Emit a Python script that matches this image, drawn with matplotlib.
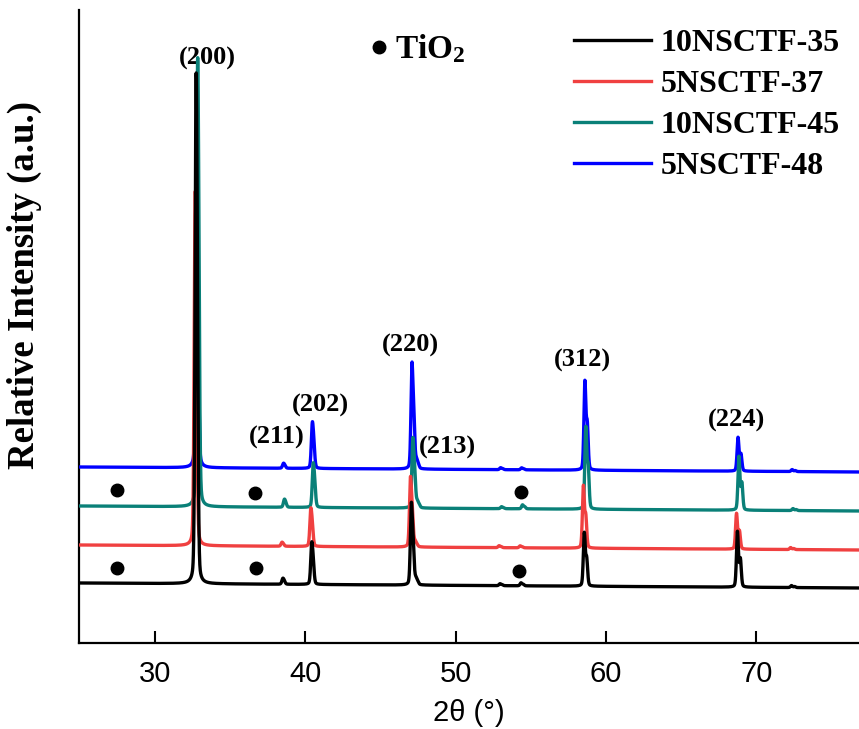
import numpy as np
import matplotlib
matplotlib.use('Agg')
import matplotlib.pyplot as plt
from matplotlib import font_manager

# ---------------- data ----------------
samples = ['10NSCTF-35', '5NSCTF-37', '10NSCTF-45', '5NSCTF-48']
colors = ['#000000', '#F04040', '#0A8078', '#0000FF']

# baseline level of each pattern at 2theta=25 and at the right end (a.u.)
base_left = [60, 98, 137, 176]
base_right = [55, 93, 132, 171]
# small position shift of each pattern (deg)
pos_shift = [0.00, -0.06, 0.10, 0.04]

peak_pos = [32.72, 38.50, 40.42, 47.05, 47.35, 52.95, 54.35, 58.56, 68.75, 72.35]
h_10NSCTF_35 = [497, 6, 42, 82, 6, 2, 3, 54, 56, 2]
h_5NSCTF_37 = [345, 4, 38, 70, 5, 2, 2, 63, 36, 2]
h_10NSCTF_45 = [437, 8, 44, 70, 6, 2, 4, 83, 54, 2]
h_5NSCTF_48 = [326, 5, 46, 106, 8, 2, 2, 90, 34, 2]
heights = [h_10NSCTF_35, h_5NSCTF_37, h_10NSCTF_45, h_5NSCTF_48]

hkl_labels = ['(200)', '(211)', '(202)', '(220)', '(213)', '(312)', '(224)']
hkl_x = [33.46, 38.12, 40.98, 46.97, 49.43, 58.41, 68.71]
hkl_y = [585, 206, 238, 298, 196, 283, 223]

tio2_x = [27.47, 36.65, 54.35, 27.47, 36.72, 54.22]
tio2_y = [153, 150, 151, 75, 75, 72]

# ---------------- profile helpers ----------------
FWHM = 0.15
ETA = 0.25
KA2_RATIO = 0.5


def pv(d):
    g = np.exp(-4 * np.log(2) * d ** 2 / FWHM ** 2)
    l = 1.0 / (1.0 + 4 * d ** 2 / FWHM ** 2)
    return ETA * l + (1 - ETA) * g


def ka2_delta(tt):
    th = np.radians(tt / 2)
    return np.degrees(2 * np.tan(th) * 0.00248)


x = np.arange(25.0, 77.0, 0.01)


def pattern(i):
    y = base_left[i] + (base_right[i] - base_left[i]) * (x - x[0]) / (x[-1] - x[0])
    for p, h in zip(peak_pos, heights[i]):
        p0 = p + pos_shift[i]
        dl = ka2_delta(p0)
        norm = 1 + KA2_RATIO * pv(dl)
        y = y + h / norm * (pv(x - p0) + KA2_RATIO * pv(x - p0 - dl))
    return y


# ---------------- fonts ----------------
names = {f.name for f in font_manager.fontManager.ttflist}
narrow = ['Liberation Sans Narrow', 'Liberation Sans', 'DejaVu Sans']
narrow = [n for n in narrow if n in names] or ['DejaVu Sans']
serif = ['Liberation Serif', 'DejaVu Serif']

plt.rcParams['mathtext.fontset'] = 'custom'
plt.rcParams['mathtext.rm'] = 'Liberation Serif:bold'
plt.rcParams['mathtext.it'] = 'Liberation Serif:bold'
plt.rcParams['mathtext.bf'] = 'Liberation Serif:bold'

# ---------------- figure ----------------
fig = plt.figure(figsize=(8.59, 7.29), dpi=100)
ax = fig.add_axes([79 / 859, 86 / 729, 1 - 79 / 859, 633 / 729])

lines = []
for i in range(4):
    ln, = ax.plot(x, pattern(i), color=colors[i], lw=2.4, label=samples[i],
                  zorder=10 - i, solid_joinstyle='round')
    lines.append(ln)

ax.set_xlim(24.94, 76.84)
ax.set_ylim(0, 633)

for s in ['top', 'right']:
    ax.spines[s].set_visible(False)
for s in ['left', 'bottom']:
    ax.spines[s].set_linewidth(1.6)

ax.set_xticks([30, 40, 50, 60, 70])
ax.set_yticks([])
ax.tick_params(axis='x', direction='in', length=9, width=1.5, pad=12,
               labelsize=21)
for t in ax.get_xticklabels():
    t.set_family(narrow)

ax.set_xlabel('2θ (°)', fontsize=21, family=narrow, labelpad=8)
ax.set_ylabel('Relative Intensity (a.u.)', fontsize=26.5, family=serif,
              fontweight='bold')
ax.yaxis.set_label_coords(-0.048, (643 - 285) / 633)

for lab, lx, ly in zip(hkl_labels, hkl_x, hkl_y):
    ax.text(lx, ly, lab, ha='center', va='center', fontsize=19,
            family=serif, fontweight='bold')

ax.plot(tio2_x, tio2_y, 'o', color='black', ms=9, ls='none', zorder=20)
ax.plot([44.9], [596], 'o', color='black', ms=9, ls='none', zorder=20)
ax.text(45.95, 594, 'TiO$_2$', ha='left', va='center', fontsize=24,
        family=serif, fontweight='bold')

leg = ax.legend(handles=lines, loc='upper right', bbox_to_anchor=(1.0, 1.001),
                frameon=False, handlelength=2.4, handletextpad=0.3,
                labelspacing=0.37, borderaxespad=0.2,
                prop={'family': serif, 'weight': 'bold', 'size': 23})

fig.savefig('out.png', dpi=100)
